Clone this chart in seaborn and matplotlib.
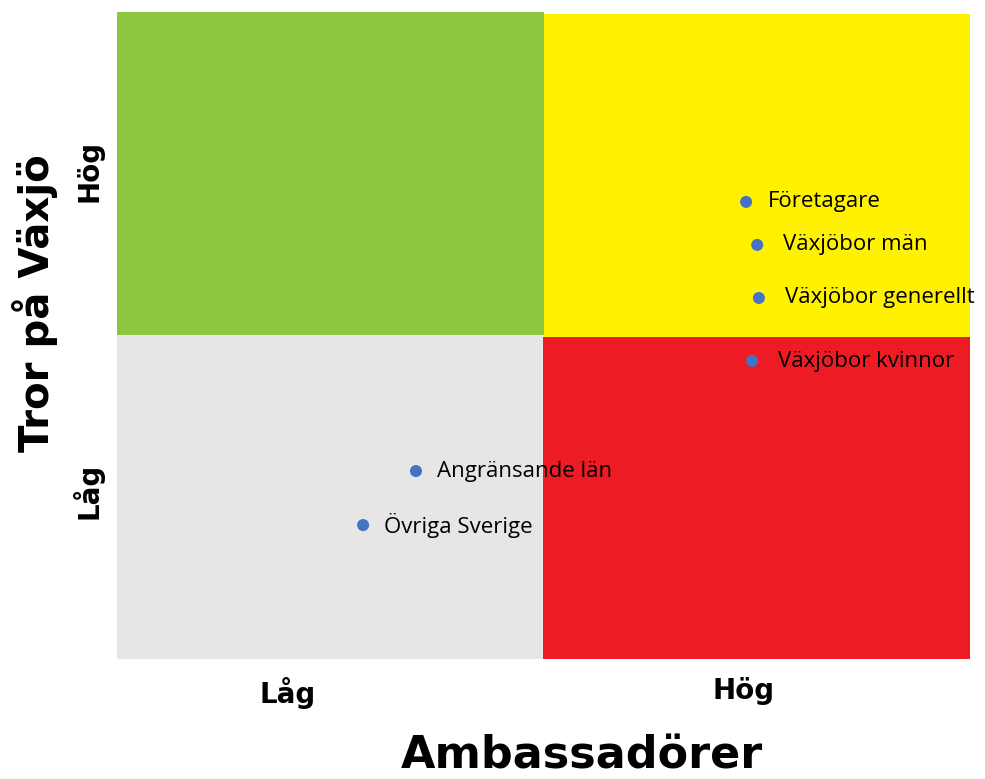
import matplotlib
matplotlib.use("Agg")
import matplotlib.pyplot as plt
import seaborn as sns
import pandas as pd

# data
groups = ["Företagare", "Växjöbor män", "Växjöbor generellt", "Växjöbor kvinnor",
          "Angränsande län", "Övriga Sverige"]
ambassador = [1.475, 1.501, 1.505, 1.489, 0.701, 0.577]
belief = [1.413, 1.280, 1.116, 0.921, 0.581, 0.414]
label_dx = [0.052, 0.061, 0.061, 0.061, 0.049, 0.049]

level_labels = ["Låg", "Hög"]
x_label_pos = [0.40, 1.47]
y_label_pos = [0.52, 1.51]

quad_colors = {"green": "#8DC63F", "yellow": "#FFF200", "grey": "#E6E6E6", "red": "#ED1C24"}

df = pd.DataFrame({"group": groups, "x": ambassador, "y": belief})

sns.set_style("white")
plt.rcParams.update({"text.color": "black", "xtick.color": "black",
                     "ytick.color": "black", "axes.labelcolor": "black"})
fig = plt.figure(figsize=(9.85, 7.79), dpi=100)
ax = fig.add_axes([117 / 985, 120 / 779, 853 / 985, 647 / 779])

# quadrants
ax.fill_between([0, 1], 1, 2, color=quad_colors["green"], lw=0)
ax.fill_between([1, 2], 0.994, 1.994, color=quad_colors["yellow"], lw=0)
ax.fill_between([0, 1], 0, 1, color=quad_colors["grey"], lw=0)
ax.fill_between([0.998, 2], 0, 0.994, color=quad_colors["red"], lw=0)

sns.scatterplot(data=df, x="x", y="y", ax=ax, color="#4472C4", s=75,
                edgecolor="none", zorder=3)
for g, x, y, dx in zip(groups, ambassador, belief, label_dx):
    ax.text(x + dx, y, g, fontsize=16, family="Open Sans", va="center",
            ha="left", clip_on=False, zorder=4)

ax.set_xlim(0, 2)
ax.set_ylim(0, 2)
for s in ax.spines.values():
    s.set_visible(False)

ax.set_xticks(x_label_pos)
ax.set_xticklabels(level_labels, fontsize=20, fontweight="bold")
ax.set_yticks(y_label_pos)
ax.set_yticklabels(level_labels, fontsize=20, fontweight="bold", rotation=90, va="center")
ax.tick_params(axis="both", length=0)
ax.tick_params(axis="x", pad=13)
ax.tick_params(axis="y", pad=10)

ax.set_xlabel("Ambassadörer", fontsize=32, fontweight="bold")
ax.set_ylabel("Tror på Växjö", fontsize=29, fontweight="bold")
ax.xaxis.set_label_coords(0.545, -0.150)
ax.yaxis.set_label_coords(-0.096, 0.55)
ax.xaxis.label.set_va("center")
ax.yaxis.label.set_va("center")

fig.savefig("out.png", dpi=100)
